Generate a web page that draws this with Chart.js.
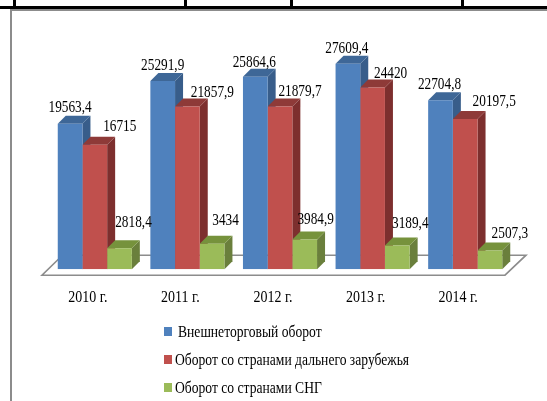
<!DOCTYPE html>
<html>
<head>
<meta charset="utf-8">
<style>
  html, body { margin: 0; padding: 0; background: #fff; }
  #wrap { position: relative; width: 547px; height: 401px; overflow: hidden; }
  #canvas-bars { position: absolute; left: 0; top: 0; filter: blur(0.35px); }
</style>
<script src="https://cdn.jsdelivr.net/npm/chart.js@4/dist/chart.umd.min.js"></script>
</head>
<body>
<div id="wrap"><canvas id="canvas-bars" width="547" height="401"></canvas></div>
<script>
const categories = ['2010 г.', '2011 г.', '2012 г.', '2013 г.', '2014 г.'];
const seriesNames = ['Внешнеторговый оборот', 'Оборот со странами дальнего зарубежья', 'Оборот со странами СНГ'];
const totalTurnover = [19563.4, 25291.9, 25864.6, 27609.4, 22704.8];
const farAbroad = [16715, 21857.9, 21879.7, 24420, 20197.5];
const cisTurnover = [2818.4, 3434, 3984.9, 3189.4, 2507.3];

// colours: front, side, top
const blue = ['#4f81bd', '#385d8a', '#3e6797'];
const red = ['#c0504d', '#7d2f2e', '#8e3a38'];
const green = ['#9bbb59', '#6a7f3c', '#76923c'];
const depth = 8;

// the source text is squashed sideways, so glyphs get stretched a bit in height
const textStretch = 1.22;

// label nudges per series/category, measured from the top front corner of each bar
const labelDx = [
    [0, 0, -1, -1, -1],
    [25, 25, 20, 18, 29],
    [14, 13.5, 11, 13, 20]
];
const labelDy = [
    [-12, -11, -10, -11, -11],
    [-14, -10, -10, -10, -13],
    [-21, -19, -16, -17, -13]
];

function fmt(v) {
    return String(v).replace('.', ',');
}

function poly(ctx, pts, color) {
    ctx.fillStyle = color;
    ctx.beginPath();
    ctx.moveTo(pts[0][0], pts[0][1]);
    for (let i = 1; i < pts.length; i++) ctx.lineTo(pts[i][0], pts[i][1]);
    ctx.closePath();
    ctx.fill();
}

function stretchedText(ctx, text, x, y) {
    ctx.save();
    ctx.translate(x, y);
    ctx.scale(1, textStretch);
    ctx.fillText(text, 0, 0);
    ctx.restore();
}

// page table rules and frame around the pasted chart
const frame = {
    id: 'frame',
    beforeDraw(chart) {
        const ctx = chart.ctx;
        ctx.save();
        ctx.fillStyle = '#000';
        ctx.fillRect(0, 6, 547, 3);
        [13, 184, 290, 461].forEach(x => ctx.fillRect(x, 0, 3, 7));
        ctx.fillStyle = '#8c8c8c';
        ctx.fillRect(10, 9, 537, 2);
        ctx.fillRect(10, 9, 2, 392);
        ctx.restore();
    }
};

// floor of the 3D box, plus side and top faces of the bars
const box3d = {
    id: 'box3d',
    afterLayout(chart) {
        const x = chart.scales.x;
        if (x.stretched) return;
        x.stretched = true;
        const drawLabels = x.drawLabels;
        x.drawLabels = function (area) {
            const midY = x.top + x.options.ticks.padding + 7;
            x.ctx.save();
            x.ctx.translate(0, midY);
            x.ctx.scale(1, textStretch);
            x.ctx.translate(0, -midY);
            drawLabels.call(x, area);
            x.ctx.restore();
        };
    },
    beforeDatasetsDraw(chart) {
        const ctx = chart.ctx;
        const a = chart.chartArea;
        ctx.save();
        ctx.strokeStyle = '#8c8c8c';
        ctx.lineWidth = 1.6;
        ctx.beginPath();
        ctx.moveTo(a.left + 14, a.bottom - 14);
        ctx.lineTo(a.right + 14.5, a.bottom - 14);
        ctx.lineTo(a.right - 6.5, a.bottom + 6);
        ctx.lineTo(a.left - 6.5, a.bottom + 6);
        ctx.closePath();
        ctx.stroke();

        chart.data.datasets.forEach((ds, d) => {
            const cols = [blue, red, green][d];
            chart.getDatasetMeta(d).data.forEach(bar => {
                const half = bar.width / 2;
                const l = bar.x - half;
                const r = bar.x + half;
                poly(ctx, [[r, bar.y], [r + depth, bar.y - depth], [r + depth, bar.base - depth], [r, bar.base]], cols[1]);
                poly(ctx, [[l, bar.y], [l + depth, bar.y - depth], [r + depth, bar.y - depth], [r, bar.y]], cols[2]);
            });
        });
        ctx.restore();
    }
};

const valueLabels = {
    id: 'valueLabels',
    afterDatasetsDraw(chart) {
        const ctx = chart.ctx;
        ctx.save();
        ctx.font = '13.3px "Liberation Serif"';
        ctx.fillStyle = '#000';
        ctx.textAlign = 'center';
        ctx.textBaseline = 'alphabetic';
        chart.data.datasets.forEach((ds, d) => {
            chart.getDatasetMeta(d).data.forEach((bar, i) => {
                stretchedText(ctx, fmt(ds.data[i]), bar.x + labelDx[d][i], bar.y + labelDy[d][i]);
            });
        });
        ctx.restore();
    }
};

// stacked legend, left aligned under the plot
const stackedLegend = {
    id: 'stackedLegend',
    afterDraw(chart) {
        const ctx = chart.ctx;
        ctx.save();
        ctx.font = '13.6px "Liberation Serif"';
        ctx.textBaseline = 'alphabetic';
        chart.data.datasets.forEach((ds, d) => {
            const y = 332 + d * 28;
            ctx.fillStyle = ds.backgroundColor;
            ctx.fillRect(164, y - 5, 8, 9);
            ctx.fillStyle = '#000';
            stretchedText(ctx, ds.label, d === 0 ? 178 : 175, y + 5);
        });
        ctx.restore();
    }
};

const canvas = document.getElementById('canvas-bars');
new Chart(canvas, {
    type: 'bar',
    data: {
        labels: categories,
        datasets: [
            { label: seriesNames[0], data: totalTurnover, backgroundColor: blue[0] },
            { label: seriesNames[1], data: farAbroad, backgroundColor: red[0] },
            { label: seriesNames[2], data: cisTurnover, backgroundColor: green[0] }
        ]
    },
    options: {
        responsive: false,
        animation: false,
        layout: { padding: { left: 48.5, right: 35.5, top: 46, bottom: 87 } },
        datasets: { bar: { categoryPercentage: 0.8, barPercentage: 1 } },
        plugins: {
            legend: { display: false },
            tooltip: { enabled: false }
        },
        scales: {
            x: {
                grid: { display: false },
                border: { display: false },
                ticks: {
                    color: '#000',
                    font: { family: '"Liberation Serif"', size: 14 },
                    padding: 10,
                    labelOffset: -7,
                    maxRotation: 0
                }
            },
            y: { display: false, min: 0, max: 30000 }
        }
    },
    plugins: [frame, box3d, valueLabels, stackedLegend]
});
</script>
</body>
</html>
